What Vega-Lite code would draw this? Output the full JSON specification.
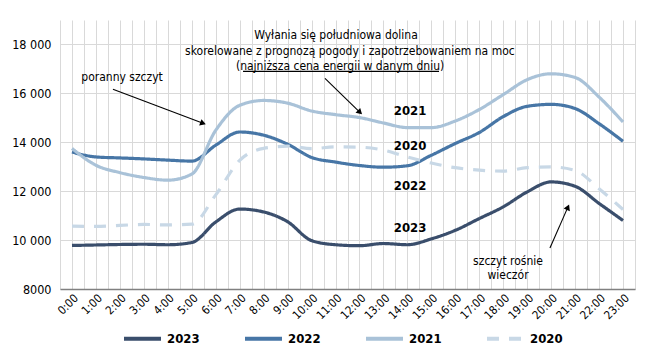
{
  "$schema": "https://vega.github.io/schema/vega-lite/v6.json",
  "width": 575,
  "height": 269,
  "autosize": {"type": "none"},
  "padding": {"left": 60, "top": 20, "right": 15, "bottom": 73},
  "background": "white",
  "config": {
    "font": "DejaVu Sans Condensed",
    "view": {"stroke": null},
    "axis": {"labelColor": "#000000", "gridColor": "#d9d9d9", "gridWidth": 1, "labelFont": "DejaVu Sans Condensed"},
    "legend": {"labelFont": "DejaVu Sans Condensed"}
  },
  "encoding": {
    "x": {"field": "h", "type": "quantitative",
      "scale": {"domain": [-0.5, 23.5], "nice": false, "zero": false},
      "axis": {"title": null, "values": [-0.5,0,0.5,1,1.5,2,2.5,3,3.5,4,4.5,5,5.5,6,6.5,7,7.5,8,8.5,9,9.5,10,10.5,11,11.5,12,12.5,13,13.5,14,14.5,15,15.5,16,16.5,17,17.5,18,18.5,19,19.5,20,20.5,21,21.5,22,22.5,23,23.5],
        "labelExpr": "datum.value % 1 == 0 ? datum.value + ':00' : ''",
        "labelAngle": -45, "labelFontSize": 11.5, "ticks": false, "labelOverlap": false,
        "labelPadding": 3, "domainColor": "#808080", "domainWidth": 1.5, "grid": true}},
    "y": {"field": "v", "type": "quantitative",
      "scale": {"domain": [8000, 19000], "nice": false, "zero": false},
      "axis": {"title": null, "values": [8000,10000,12000,14000,16000,18000],
        "labelExpr": "datum.value < 10000 ? format(datum.value, 'd') : replace(format(datum.value, ','), ',', ' ')",
        "labelFontSize": 12.5, "domain": false, "ticks": false, "labelPadding": 9, "grid": true}}
  },
  "layer": [
    {
      "data": {"values": [
        {"h":0,"year":"2023","v":9780},{"h":1,"year":"2023","v":9800},{"h":2,"year":"2023","v":9820},{"h":3,"year":"2023","v":9830},{"h":4,"year":"2023","v":9810},{"h":5,"year":"2023","v":9900},{"h":6,"year":"2023","v":10740},{"h":7,"year":"2023","v":11270},{"h":8,"year":"2023","v":11150},{"h":9,"year":"2023","v":10750},{"h":10,"year":"2023","v":9980},{"h":11,"year":"2023","v":9810},{"h":12,"year":"2023","v":9770},{"h":13,"year":"2023","v":9860},{"h":14,"year":"2023","v":9810},{"h":15,"year":"2023","v":10050},{"h":16,"year":"2023","v":10400},{"h":17,"year":"2023","v":10880},{"h":18,"year":"2023","v":11360},{"h":19,"year":"2023","v":11970},{"h":20,"year":"2023","v":12380},{"h":21,"year":"2023","v":12200},{"h":22,"year":"2023","v":11500},{"h":23,"year":"2023","v":10800},
        {"h":0,"year":"2022","v":13600},{"h":1,"year":"2022","v":13400},{"h":2,"year":"2022","v":13360},{"h":3,"year":"2022","v":13320},{"h":4,"year":"2022","v":13270},{"h":5,"year":"2022","v":13230},{"h":6,"year":"2022","v":13880},{"h":7,"year":"2022","v":14420},{"h":8,"year":"2022","v":14290},{"h":9,"year":"2022","v":13920},{"h":10,"year":"2022","v":13380},{"h":11,"year":"2022","v":13190},{"h":12,"year":"2022","v":13050},{"h":13,"year":"2022","v":12980},{"h":14,"year":"2022","v":13040},{"h":15,"year":"2022","v":13470},{"h":16,"year":"2022","v":13950},{"h":17,"year":"2022","v":14400},{"h":18,"year":"2022","v":15050},{"h":19,"year":"2022","v":15470},{"h":20,"year":"2022","v":15550},{"h":21,"year":"2022","v":15380},{"h":22,"year":"2022","v":14760},{"h":23,"year":"2022","v":14040},
        {"h":0,"year":"2021","v":13750},{"h":1,"year":"2021","v":13060},{"h":2,"year":"2021","v":12760},{"h":3,"year":"2021","v":12560},{"h":4,"year":"2021","v":12450},{"h":5,"year":"2021","v":12700},{"h":6,"year":"2021","v":14490},{"h":7,"year":"2021","v":15510},{"h":8,"year":"2021","v":15710},{"h":9,"year":"2021","v":15600},{"h":10,"year":"2021","v":15280},{"h":11,"year":"2021","v":15130},{"h":12,"year":"2021","v":15010},{"h":13,"year":"2021","v":14790},{"h":14,"year":"2021","v":14600},{"h":15,"year":"2021","v":14600},{"h":16,"year":"2021","v":14870},{"h":17,"year":"2021","v":15340},{"h":18,"year":"2021","v":15950},{"h":19,"year":"2021","v":16560},{"h":20,"year":"2021","v":16800},{"h":21,"year":"2021","v":16650},{"h":22,"year":"2021","v":15850},{"h":23,"year":"2021","v":14830},
        {"h":0,"year":"2020","v":10570},{"h":1,"year":"2020","v":10560},{"h":2,"year":"2020","v":10600},{"h":3,"year":"2020","v":10640},{"h":4,"year":"2020","v":10620},{"h":5,"year":"2020","v":10650},{"h":6,"year":"2020","v":11850},{"h":7,"year":"2020","v":13260},{"h":8,"year":"2020","v":13750},{"h":9,"year":"2020","v":13840},{"h":10,"year":"2020","v":13740},{"h":11,"year":"2020","v":13810},{"h":12,"year":"2020","v":13800},{"h":13,"year":"2020","v":13680},{"h":14,"year":"2020","v":13400},{"h":15,"year":"2020","v":13150},{"h":16,"year":"2020","v":12960},{"h":17,"year":"2020","v":12860},{"h":18,"year":"2020","v":12820},{"h":19,"year":"2020","v":12960},{"h":20,"year":"2020","v":12990},{"h":21,"year":"2020","v":12850},{"h":22,"year":"2020","v":12100},{"h":23,"year":"2020","v":11250}
      ]},
      "mark": {"type": "line", "interpolate": "monotone", "strokeWidth": 3.2},
      "encoding": {
        "color": {"field": "year", "type": "nominal",
          "scale": {"domain": ["2023","2022","2021","2020"], "range": ["#3a4e6c","#4776a6","#a9c2d8","#c8d8e6"]},
          "legend": {"title": null, "orient": "none", "legendX": 62, "legendY": 298, "direction": "horizontal", "columns": 4,
            "symbolType": "stroke", "symbolSize": 1369, "symbolStrokeWidth": 4, "labelFontSize": 13, "labelFontWeight": "bold",
            "labelColor": "#000000", "columnPadding": 37, "labelOffset": 4}},
        "strokeDash": {"field": "year", "type": "nominal",
          "scale": {"domain": ["2023","2022","2021","2020"], "range": [[1,0],[1,0],[1,0],[12,10]]},
          "legend": {"title": null, "orient": "none", "legendX": 62, "legendY": 298, "direction": "horizontal", "columns": 4,
            "symbolType": "stroke", "symbolSize": 1369, "symbolStrokeWidth": 4, "labelFontSize": 13, "labelFontWeight": "bold",
            "labelColor": "#000000", "columnPadding": 37, "labelOffset": 4}}
      }
    },
    {
      "data": {"values": [
        {"h": 2.09, "v": 16654, "label": "poranny szczyt"},
        {"h": 11.02, "v": 18400, "label": "Wyłania się południowa dolina"},
        {"h": 11.6, "v": 17740, "label": "skorelowane z prognozą pogody i zapotrzebowaniem na moc"},
        {"h": 11.19, "v": 17120, "label": "(najniższa cena energii w danym dniu)"},
        {"h": 18.2, "v": 9130, "label": "szczyt rośnie\nwieczór"}
      ]},
      "mark": {"type": "text", "fontSize": 12, "color": "#000000", "align": "center", "baseline": "middle", "lineBreak": "\n", "lineHeight": 14},
      "encoding": {
        "text": {"field": "label"}
      }
    },
    {
      "data": {"values": [
        {"h": 14.11, "v": 15266, "label": "2021"},
        {"h": 14.11, "v": 13837, "label": "2020"},
        {"h": 14.11, "v": 12205, "label": "2022"},
        {"h": 14.11, "v": 10490, "label": "2023"}
      ]},
      "mark": {"type": "text", "fontSize": 13, "fontWeight": "bold", "color": "#000000", "align": "center", "baseline": "middle"},
      "encoding": {
        "text": {"field": "label"}
      }
    },
    {
      "data": {"values": [
        {"id": "underline", "h": 7.14, "v": 16900, "h2": 15.32, "v2": 16900},
        {"id": "a1", "h": 1.71, "v": 16164, "h2": 5.47, "v2": 14776},
        {"id": "a2", "h": 10.56, "v": 16613, "h2": 12.02, "v2": 15225},
        {"id": "a3", "h": 19.95, "v": 9674, "h2": 20.7, "v2": 11347}
      ]},
      "mark": {"type": "rule", "color": "#000000", "strokeWidth": 1.1},
      "encoding": {
        "x2": {"field": "h2"},
        "y2": {"field": "v2"}
      }
    },
    {
      "data": {"values": [{"id": "a1", "h": 5.47, "v": 14776}]},
      "mark": {"type": "point", "shape": "triangle-up", "filled": true, "color": "#000000", "opacity": 1, "size": 45, "angle": 110.7}
    },
    {
      "data": {"values": [{"id": "a2", "h": 12.02, "v": 15225}]},
      "mark": {"type": "point", "shape": "triangle-up", "filled": true, "color": "#000000", "opacity": 1, "size": 45, "angle": 134.2}
    },
    {
      "data": {"values": [{"id": "a3", "h": 20.7, "v": 11347}]},
      "mark": {"type": "point", "shape": "triangle-up", "filled": true, "color": "#000000", "opacity": 1, "size": 45, "angle": 23.7}
    }
  ]
}
